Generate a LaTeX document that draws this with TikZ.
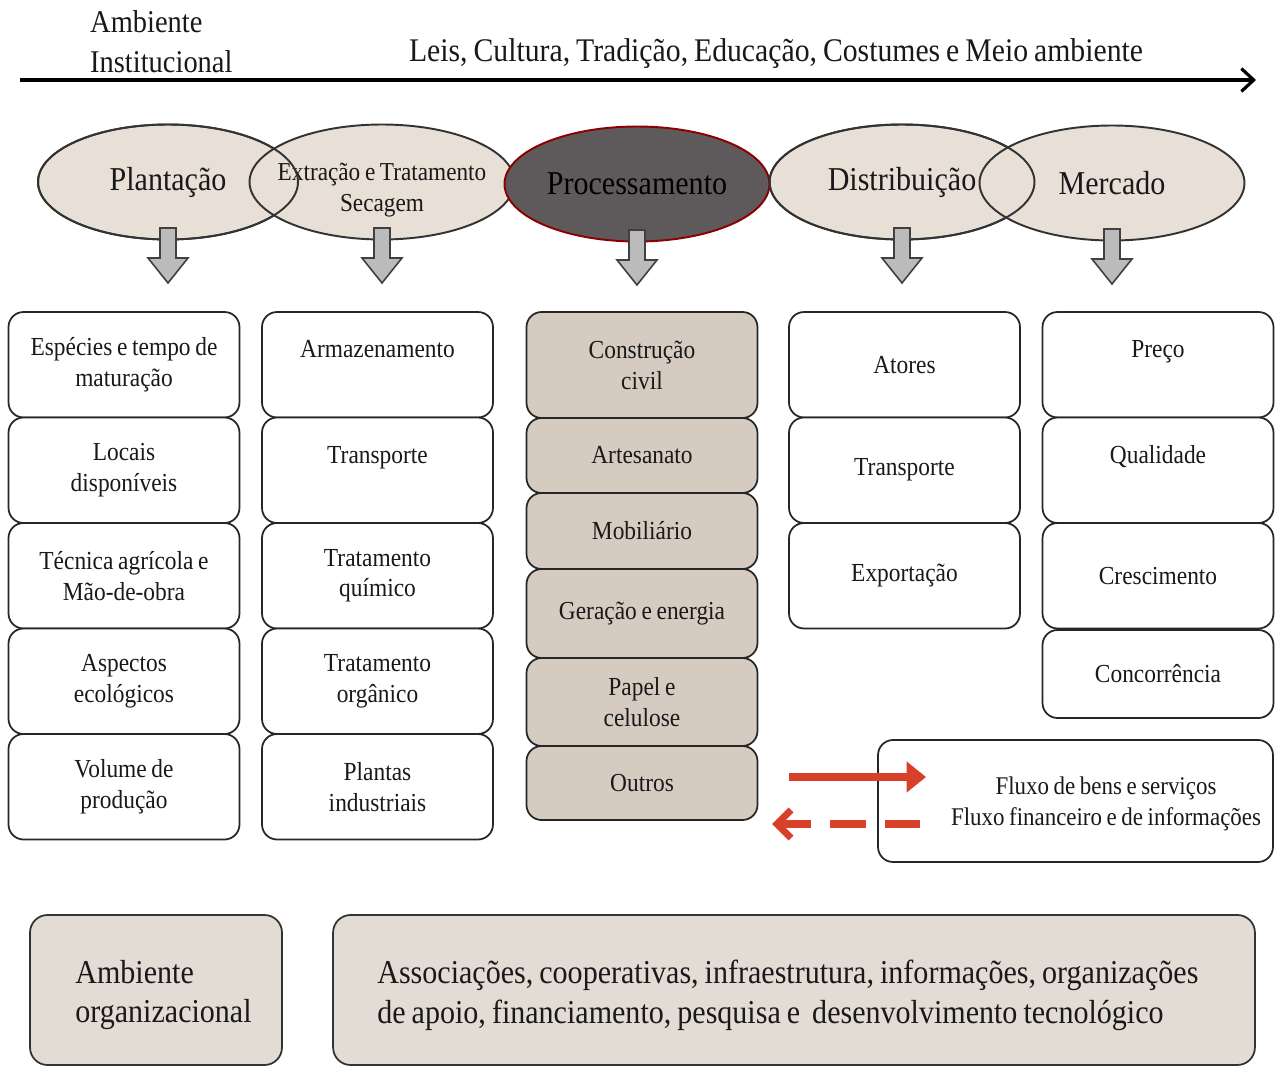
\documentclass[tikz,border=0pt]{standalone}
\usepackage{fontspec}
\setmainfont[FakeStretch=0.9,WordSpace=0.8]{Liberation Serif}
\usepackage{xcolor}
\usetikzlibrary{shapes.geometric,arrows.meta,positioning}

\definecolor{bege}{HTML}{E8DFD7}
\definecolor{begeesc}{HTML}{D6CBC0}
\definecolor{begefundo}{HTML}{E3DCD4}
\definecolor{cinzaesc}{HTML}{5E5A5B}
\definecolor{cinzaseta}{HTML}{BBBBBB}
\definecolor{vermelho}{HTML}{D8402A}

\tikzset{
  elo/.style={ellipse, draw=black!80, line width=1.1pt, fill=bege, minimum width=5.3cm,
    minimum height=2.3cm, inner sep=0pt, align=center, text=black!90,
    font=\fontsize{19}{22}\selectfont},
  caixa/.style={draw=black!85, line width=1pt, rounded corners=0.3cm, fill=white,
    minimum width=4.62cm, minimum height=2.11cm, inner sep=2pt, align=center,
    text=black!90, font=\fontsize{14.8}{17.6}\selectfont},
  caixaproc/.style={caixa, fill=begeesc},
  setabloco/.style={draw=black!75, line width=0.9pt, fill=cinzaseta},
  fundo/.style={draw=black!80, line width=1pt, rounded corners=0.35cm, fill=begefundo,
    minimum height=3cm},
  fundotxt/.style={anchor=west, inner sep=0pt, align=left, text=black!90,
    font=\fontsize{19}{22.7}\selectfont}
}

\begin{document}
\begin{tikzpicture}[x=0.02cm,y=-0.02cm]
\useasboundingbox (0,0) rectangle (1275,1068);

% ambiente institucional
\node[anchor=west, align=left, text=black!90, font=\fontsize{18}{22.7}\selectfont] (inst) at (84,42) {Ambiente\\Institucional};
\node[text=black!90, font=\fontsize{18.8}{21}\selectfont] (leis) at (776,54) {Leis, Cultura, Tradição, Educação, Costumes e Meio ambiente};
\coordinate (ini) at (20,80);
\coordinate (fim) at (1256,80);
\draw[line width=1.8pt, -{Straight Barb[length=7pt,width=13pt]}] (ini) -- (fim);

% elos da cadeia
\node[elo, minimum width=5.2cm] (plant) at (168,182) {Plantação};
\node[elo] (extr) at (382,182) {};
\node[align=center, text=black!90, font=\fontsize{14.7}{18}\selectfont] (extrtxt) at (382,190)
  {Extração e Tratamento\\Secagem};
\node[elo] (dist) at (902,182) {Distribuição};
\node[elo] (merc) at (1112,183) {Mercado};
\node[elo, fill=cinzaesc, draw=red!55!black, text=black] (proc) at (637,184) {Processamento};
\draw[draw=black!80, line width=1.1pt] (plant.center) ellipse (2.6cm and 1.15cm);
\draw[draw=black!80, line width=1.1pt] (dist.center) ellipse (2.65cm and 1.15cm);

\foreach \n in {plant,extr,proc,dist,merc}
  \draw[setabloco, shift={(\n.center)}] (-8,46) -- (8,46) -- (8,76) -- (20,76) -- (0,101)
    -- (-20,76) -- (-8,76) -- cycle;

% colunas
\foreach \t [count=\i] in {Espécies e tempo de\\maturação, Locais\\disponíveis,
    Técnica agrícola e\\Mão-de-obra, Aspectos\\ecológicos, Volume de\\produção}
  \node[caixa] (pl\i) at (124,259.25+105.5*\i) {\t};

\foreach \t [count=\i] in {Armazenamento\\~, Transporte\\~, Tratamento\\químico,
    Tratamento\\orgânico, Plantas\\industriais}
  \node[caixa] (ex\i) at (377.5,259.25+105.5*\i) {\t};

\node[caixaproc, minimum height=2.12cm] (pr1) at (642,365) {Construção\\civil};
\node[caixaproc, minimum height=1.5cm] (pr2) at (642,455.5) {Artesanato};
\node[caixaproc, minimum height=1.52cm] (pr3) at (642,531) {Mobiliário};
\node[caixaproc, minimum height=1.78cm] (pr4) at (642,613.5) {Geração e energia};
\node[caixaproc, minimum height=1.76cm] (pr5) at (642,702) {Papel e\\celulose};
\node[caixaproc, minimum height=1.48cm] (pr6) at (642,783) {Outros};

\foreach \t [count=\i] in {Atores, Transporte, Exportação}
  \node[caixa] (di\i) at (904.5,259.25+105.5*\i) {\t};

\foreach \t [count=\i] in {Preço\\~, Qualidade\\~, Crescimento}
  \node[caixa] (me\i) at (1158,259.25+105.5*\i) {\t};
\node[caixa, minimum height=1.76cm] (me4) at (1158,674) {Concorrência};

% legenda
\node[caixa, minimum width=7.9cm, minimum height=2.44cm] (leg) at (1075.5,801) {};
\node[align=center, text=black!90, font=\fontsize{14.5}{18}\selectfont] (legtxt) at (1106,804)
  {Fluxo de bens e serviços\\Fluxo financeiro e de informações};
\coordinate (bens1) at (789,777);
\coordinate (bens2) at (926,777);
\coordinate (fin1) at (920,824);
\coordinate (fin2) at (772,824);
\draw[vermelho, line width=4.5pt, -{Triangle[length=11pt,width=17pt]}] (bens1) -- (bens2);
\draw[vermelho, line width=4pt, dash pattern=on 20pt off 11pt,
  -{Straight Barb[length=8pt,width=16pt]}] (fin1) -- (fin2);

% ambiente organizacional
\node[fundo, minimum width=5.04cm] (org) at (156,990) {};
\node[fundotxt] (orgtxt) at (75,995) {Ambiente\\organizacional};
\node[fundo, minimum width=18.44cm] (assoc) at (794,990) {};
\node[fundotxt] (assoctxt) at (377,995)
  {Associações, cooperativas, infraestrutura, informações, organizações\\de apoio, financiamento, pesquisa e\ \ desenvolvimento tecnológico};
\end{tikzpicture}
\end{document}
